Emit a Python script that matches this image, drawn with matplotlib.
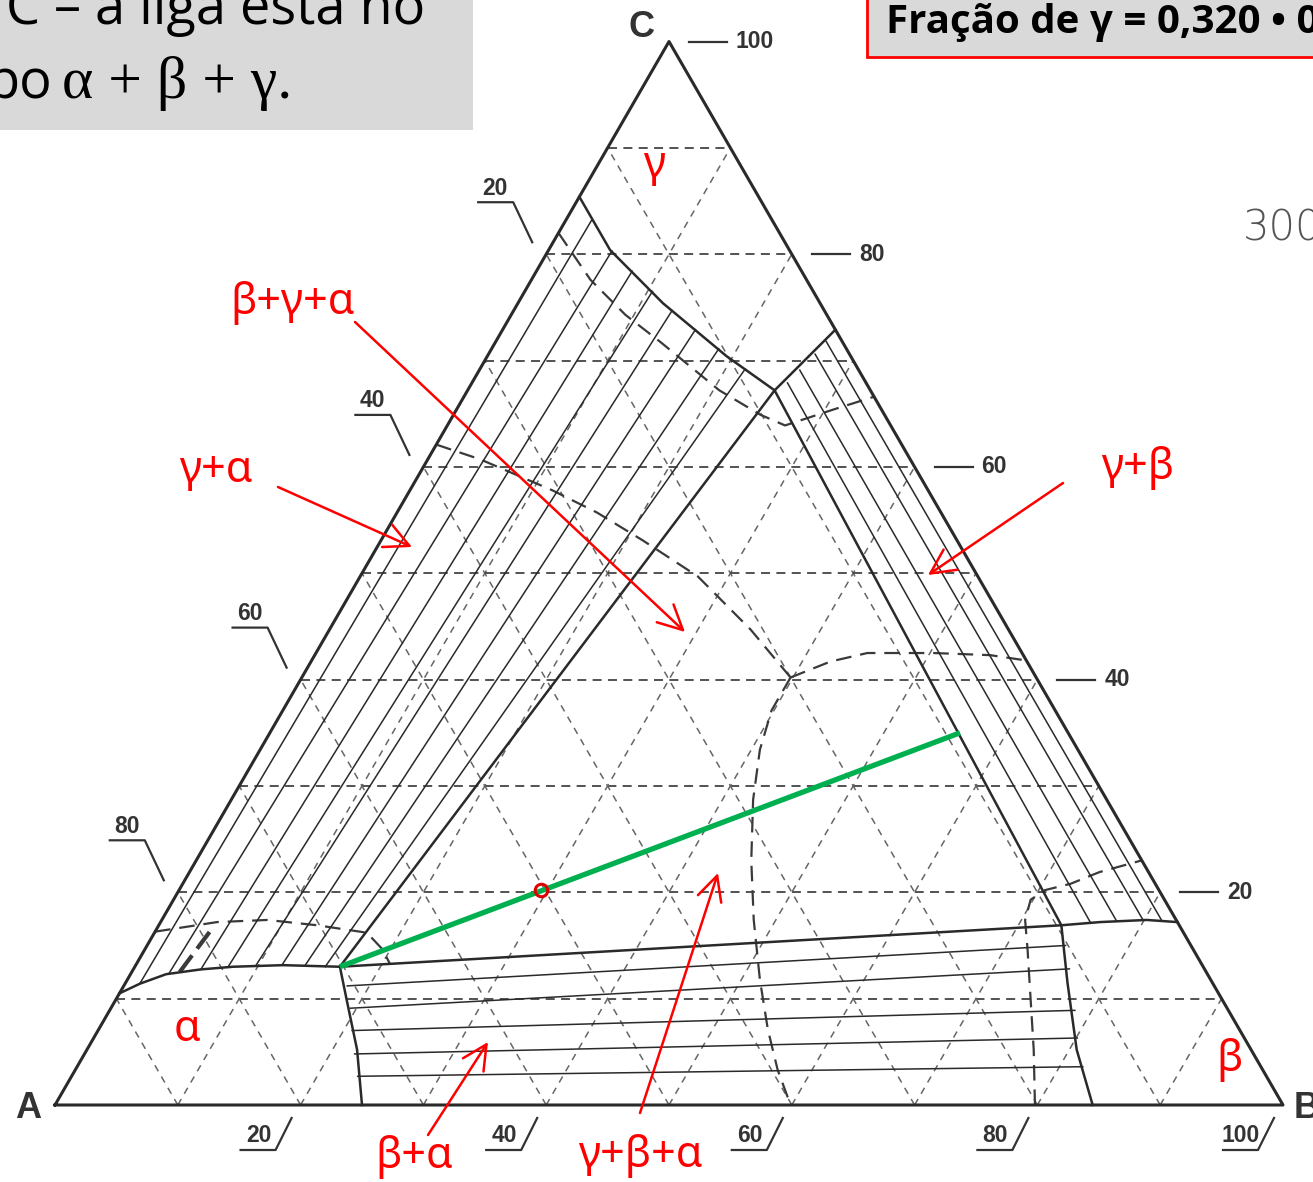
import numpy as np
import matplotlib
matplotlib.use("Agg")
import matplotlib.pyplot as plt
from matplotlib.patches import Rectangle

W, H = 1313, 1182
A_PX = (55, 1105)       # pixel position of corner A
SIDE_PX = 1228          # length of side AB in pixels
S = SIDE_PX / 100.0     # pixels per composition unit
SQ3 = np.sqrt(3) / 2

# compositions as (B %, C %); A is the remainder
ALPHA_BOUNDARY = [(0.0, 10.5), (1.2, 11.4), (2.9, 12.3), (5.5, 12.75), (8.0, 13.0), (12.0, 13.15), (16.7, 13.0)]
ALPHA_SOLVUS = [(16.7, 13.0), (18.8, 9.9), (22.0, 5.2), (25.0, 0.0)]
GAMMA_ALPHA_BOUNDARY = [(0.0, 85.4), (5.0, 80.4), (11.8, 75.4), (19.5, 70.4), (25.0, 67.2)]
GAMMA_BETA_BOUNDARY = [(25.0, 67.2), (27.1, 72.9)]
BETA_TOP = [(73.5, 16.9), (76.5, 17.2), (80.2, 17.4), (82.8, 17.2)]
BETA_LEFT = [(73.5, 16.9), (76.7, 11.5), (80.6, 5.2), (84.5, 0.0)]
TIE_TRIANGLE = [(16.7, 13.0), (25.0, 67.2), (73.5, 16.9), (16.7, 13.0)]

# tie lines, one end list per side
GA_TIES_ALPHA = [(1.2, 11.4), (3.1, 12.4), (5.5, 12.75), (7.6, 12.95), (9.8, 13.1), (11.9, 13.15), (13.8, 13.1), (15.5, 13.0)]
GA_TIES_GAMMA = [(2.1, 83.2), (5.2, 80.3), (7.8, 78.4), (10.4, 76.5), (12.9, 74.7), (15.7, 72.9), (18.5, 71.1), (21.6, 69.2)]
GB_TIES_GAMMA = [(25.7, 67.9), (26.1, 69.1), (26.6, 70.6), (26.9, 71.8)]
GB_TIES_BETA = [(75.7, 17.2), (77.8, 17.3), (79.9, 17.4), (81.5, 17.3)]
BA_TIES_ALPHA = [(18.2, 11.2), (19.5, 9.1), (20.7, 7.0), (22.0, 4.8), (23.3, 2.7)]
BA_TIES_BETA = [(74.8, 15.0), (76.2, 12.8), (78.6, 8.9), (80.1, 6.3), (81.9, 3.6)]

# second isotherm (dashed)
ISO2_CURVES = [
    [(0.0, 62.1), (4.3, 60.7), (11.6, 57.8), (16.3, 55.7), (21.3, 53.1), (27.5, 49.7), (34.3, 44.7), (39.8, 40.2)],
    [(0.0, 82.0), (4.8, 77.6), (9.3, 74.3), (13.5, 71.7), (20.5, 67.2), (25.0, 64.9), (27.5, 63.9), (30.7, 65.4), (33.4, 66.6)],
    [(39.8, 40.2), (42.3, 41.7), (44.9, 42.5), (50.3, 42.5), (55.0, 42.3), (58.2, 41.8)],
    [(39.8, 40.2), (39.8, 37.1), (40.7, 33.4), (42.5, 28.7), (45.2, 23.0), (48.2, 17.4), (51.5, 11.8), (54.5, 7.1), (57.2, 3.3), (59.9, 0.0)],
    [(0.0, 16.3), (4.6, 17.2), (8.6, 17.4), (12.9, 16.9), (17.3, 16.2), (19.4, 14.6), (20.7, 13.2)],
    [(79.8, 0.0), (77.1, 5.2), (74.5, 9.9), (71.9, 14.6), (70.3, 17.4), (69.8, 19.3), (70.5, 20.2), (72.3, 20.8), (74.1, 21.9), (77.0, 23.0)],
]
ISO2_TIE = [(3.9, 12.5), (4.5, 16.6)]

GREEN_TIE = [(16.7, 13.0), (56.2, 35.0)]
ALLOY = [(29.5, 20.2)]

RIGHT_TICKS = [20, 40, 60, 80, 100]
LEFT_TICKS = [20, 40, 60, 80]
BOTTOM_TICKS = [20, 40, 60, 80, 100]
GRID_STEPS = np.arange(10, 100, 10)

INK = "#2a2a2a"
LABEL_FONT = ["Liberation Sans", "DejaVu Sans"]
RED_FONT = ["Noto Sans", "DejaVu Sans"]
BOX_FONT = ["Open Sans", "DejaVu Sans"]


def to_xy(pts):
    pts = np.asarray(pts, dtype=float)
    b, c = pts[:, 0], pts[:, 1]
    return b + c / 2, c * SQ3


def off(x, y, dx, dy):
    return x + dx / S, y + dy / S


def tern_line(ax, pts, **kw):
    x, y = to_xy(pts)
    ax.plot(x, y, **kw)


fig = plt.figure(figsize=(W / 100, H / 100), dpi=100)
ax = fig.add_axes([0, 0, 1, 1])
ax.set_xlim(-A_PX[0] / S, (W - A_PX[0]) / S)
ax.set_ylim((A_PX[1] - H) / S, A_PX[1] / S)
ax.set_axis_off()

# dashed composition grid
for v in GRID_STEPS:
    tern_line(ax, [(0, v), (100 - v, v)], color="#444444", lw=1.3, ls=(0, (5, 3.5)), zorder=1)
    tern_line(ax, [(v, 0), (v, 100 - v)], color="#666666", lw=1.1, ls=(0, (4.5, 4)), zorder=1)
    tern_line(ax, [(100 - v, 0), (0, 100 - v)], color="#666666", lw=1.1, ls=(0, (4.5, 4)), zorder=1)

# second isotherm
for curve in ISO2_CURVES:
    tern_line(ax, curve, color="#3a3a3a", lw=1.6, ls=(0, (7, 4)), zorder=2)
tern_line(ax, ISO2_TIE, color="#3a3a3a", lw=3.0, ls=(0, (5, 2)), zorder=2)

# tie lines
for p, q in zip(GA_TIES_ALPHA, GA_TIES_GAMMA):
    tern_line(ax, [p, q], color=INK, lw=1.1, zorder=3)
for p, q in zip(GB_TIES_GAMMA, GB_TIES_BETA):
    tern_line(ax, [p, q], color=INK, lw=1.1, zorder=3)
for p, q in zip(BA_TIES_ALPHA, BA_TIES_BETA):
    tern_line(ax, [p, q], color=INK, lw=1.1, zorder=3)

# phase boundaries
for pts in (ALPHA_BOUNDARY, ALPHA_SOLVUS, GAMMA_ALPHA_BOUNDARY, GAMMA_BETA_BOUNDARY,
            BETA_TOP, BETA_LEFT, TIE_TRIANGLE):
    tern_line(ax, pts, color=INK, lw=1.8, zorder=4)

# outer triangle
tern_line(ax, [(0, 0), (100, 0), (0, 100), (0, 0)], color=INK, lw=2.2, zorder=5)

# tie line through the alloy
tern_line(ax, GREEN_TIE, color="#00b050", lw=3.8, solid_capstyle="butt", zorder=6)
al_x, al_y = to_xy(ALLOY)
ax.plot(al_x, al_y, "o", ms=9, mfc="none", mec="#e00000", mew=2.2, zorder=7)

# corner letters
for name, pt, dxy in (("A", (0, 0), (-27, -3)), ("B", (100, 0), (24, -3)), ("C", (0, 100), (-27, 14))):
    x, y = to_xy([pt])
    ax.annotate(name, (x[0], y[0]), xytext=dxy, textcoords="offset pixels", ha="center", va="center",
                fontsize=26, fontweight="bold", color="#333333", family=LABEL_FONT)

tick_kw = dict(fontsize=16.5, fontweight="bold", color="#333333", family=LABEL_FONT)

# C % along the right side
for c in RIGHT_TICKS:
    x, y = to_xy([(100 - c, c)])
    x, y = x[0], y[0]
    p0, p1 = off(x, y, 20, 0), off(x, y, 58, 0)
    ax.plot([p0[0], p1[0]], [p0[1], p1[1]], color="#333333", lw=1.6)
    ax.annotate(str(c), (x, y), xytext=(67, 0), textcoords="offset pixels", ha="left", va="center", **tick_kw)

# A % along the left side
for a in LEFT_TICKS:
    x, y = to_xy([(0, 100 - a)])
    x, y = x[0], y[0]
    pts = [off(x, y, -14, 12), off(x, y, -33, 52), off(x, y, -68, 52)]
    ax.plot([p[0] for p in pts], [p[1] for p in pts], color="#333333", lw=1.6)
    ax.annotate(str(a), (x, y), xytext=(-51, 66), textcoords="offset pixels", ha="center", va="center", **tick_kw)

# B % along the base
for b in BOTTOM_TICKS:
    x, y = to_xy([(b, 0)])
    x, y = x[0], y[0]
    pts = [off(x, y, -9, -13), off(x, y, -25, -45), off(x, y, -60, -45)]
    ax.plot([p[0] for p in pts], [p[1] for p in pts], color="#333333", lw=1.6)
    ax.annotate(str(b), (x, y), xytext=(-42, -31), textcoords="offset pixels", ha="center", va="center", **tick_kw)

# annotation layer in pixel units
ov = fig.add_axes([0, 0, 1, 1])
ov.set_xlim(0, W)
ov.set_ylim(H, 0)
ov.set_axis_off()
ov.patch.set_alpha(0)

ov.add_patch(Rectangle((-5, -5), 478, 135, facecolor="#d9d9d9", edgecolor="none"))
ov.text(425, 24, "C – a liga está no", ha="right", va="baseline", fontsize=39,
        family=BOX_FONT, color="black")
ov.text(52, 98, "po", ha="right", va="baseline", fontsize=39,
        family=BOX_FONT, color="black")
ov.text(62, 98, "α + β + γ.", ha="left", va="baseline", fontsize=43,
        family=["Liberation Serif", "DejaVu Serif"], color="black")

ov.add_patch(Rectangle((867, -5), 460, 62, facecolor="#d9d9d9", edgecolor="#ff0000", lw=2))
ov.text(886, 33, "Fração de γ = 0,320 • 0", ha="left", va="baseline", fontsize=29, fontweight="bold",
        family=BOX_FONT, color="black")

ov.text(1243, 228, "300", ha="left", va="center", fontsize=30, color="#555555",
        family=["DejaVu Sans"], fontweight="light")

red_kw = dict(color="#ff0000", fontsize=31, family=RED_FONT, va="baseline", ha="center")
ov.text(654, 177, "γ", **red_kw)
ov.text(293, 314, "β+γ+α", **red_kw)
ov.text(216, 482, "γ+α", **red_kw)
ov.text(1138, 479, "γ+β", **red_kw)
ov.text(187, 1041, "α", **red_kw)
ov.text(1230, 1071, "β", **red_kw)
ov.text(414, 1168, "β+α", **red_kw)
ov.text(640, 1167, "γ+β+α", **red_kw)

arrow_kw = dict(arrowstyle="->,head_length=0.8,head_width=0.4", color="#ff0000", lw=1.8,
                mutation_scale=22, shrinkA=0, shrinkB=0)
for start, end in (((355, 322), (685, 632)), ((278, 487), (412, 547)), ((1063, 483), (928, 575)),
                   ((428, 1135), (488, 1042)), ((640, 1113), (718, 873))):
    ov.annotate("", xy=end, xytext=start, arrowprops=arrow_kw)

fig.savefig("out.png", dpi=100, facecolor="white")
